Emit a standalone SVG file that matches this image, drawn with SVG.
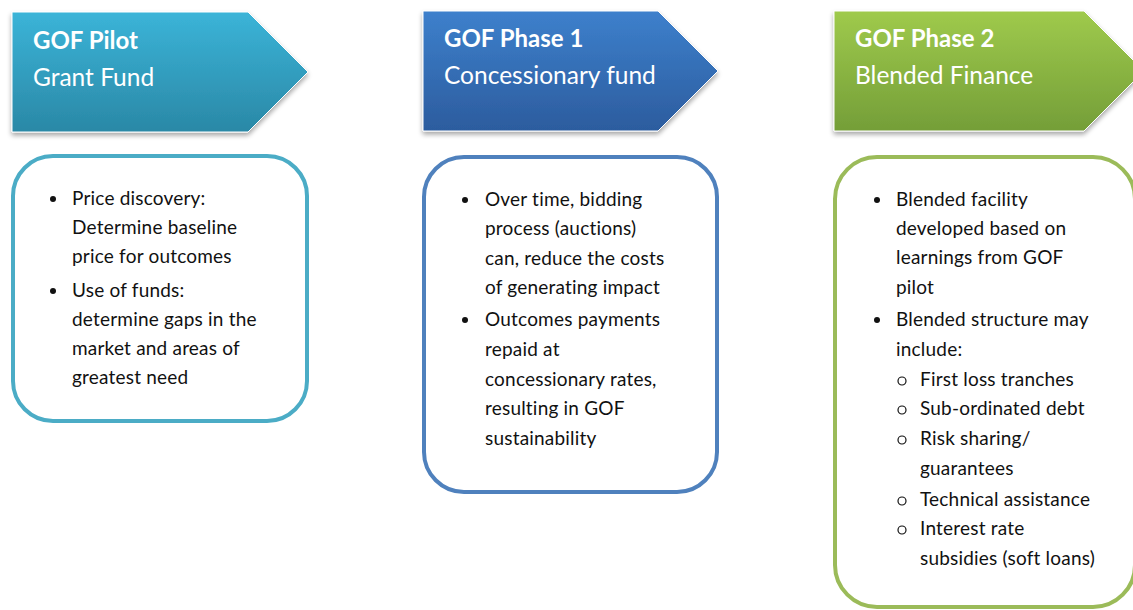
<svg xmlns="http://www.w3.org/2000/svg" width="1133" height="610" viewBox="0 0 1133 610">
<defs>
<linearGradient id="gPilot" x1="0" y1="0" x2="0" y2="1"><stop offset="0" stop-color="#3bb4d8"/><stop offset="1" stop-color="#2a88a6"/></linearGradient>
<linearGradient id="gP1" x1="0" y1="0" x2="0" y2="1"><stop offset="0" stop-color="#3d80cc"/><stop offset="1" stop-color="#2c5c9e"/></linearGradient>
<linearGradient id="gP2" x1="0" y1="0" x2="0" y2="1"><stop offset="0" stop-color="#9fca4c"/><stop offset="1" stop-color="#749e38"/></linearGradient>
<filter id="sh" x="-10%" y="-10%" width="120%" height="130%"><feGaussianBlur in="SourceAlpha" stdDeviation="2.5"/><feOffset dx="0" dy="3"/><feComponentTransfer><feFuncA type="linear" slope="0.35"/></feComponentTransfer><feMerge><feMergeNode/><feMergeNode in="SourceGraphic"/></feMerge></filter>
</defs>
<style>
.h1{font-family:Lato,"Liberation Sans",sans-serif;font-weight:bold;font-size:24px;fill:#fff}
.h2{font-family:Lato,"Liberation Sans",sans-serif;font-size:24.5px;fill:#fff}
.t{font-family:Lato,"Liberation Sans",sans-serif;font-size:19px;letter-spacing:0.2px;fill:#111}
.box{fill:#fff;stroke-width:4}
.dot{fill:#111}
.circ{fill:none;stroke:#111;stroke-width:1.2}
</style>
<g id="header-pilot">
<path d="M12 12 H248 L308 72 L248 132 H12 Z" fill="url(#gPilot)" stroke="#fff" stroke-width="1" filter="url(#sh)"/>
<text class="h1" x="33" y="49">GOF Pilot</text>
<text class="h2" x="33" y="86">Grant Fund</text>
</g>
<g id="header-phase1">
<path d="M423 11 H658 L718 71 L658 131 H423 Z" fill="url(#gP1)" stroke="#fff" stroke-width="1" filter="url(#sh)"/>
<text class="h1" x="444" y="47">GOF Phase 1</text>
<text class="h2" x="444" y="84">Concessionary fund</text>
</g>
<g id="header-phase2">
<path d="M834 11 H1084 L1144 71 L1084 131 H834 Z" fill="url(#gP2)" stroke="#fff" stroke-width="1" filter="url(#sh)"/>
<text class="h1" x="855" y="47">GOF Phase 2</text>
<text class="h2" x="855" y="84">Blended Finance</text>
</g>
<g id="box-pilot">
<rect class="box" x="13" y="156" width="294" height="265" rx="40" stroke="#4bacc6"/>
<circle class="dot" cx="53" cy="199" r="3"/>
<text class="t" x="72" y="205">Price discovery:</text>
<text class="t" x="72" y="234">Determine baseline</text>
<text class="t" x="72" y="263">price for outcomes</text>
<circle class="dot" cx="53" cy="291" r="3"/>
<text class="t" x="72" y="297">Use of funds:</text>
<text class="t" x="72" y="326">determine gaps in the</text>
<text class="t" x="72" y="355">market and areas of</text>
<text class="t" x="72" y="384">greatest need</text>
</g>
<g id="box-phase1">
<rect class="box" x="424" y="157" width="293" height="335" rx="40" stroke="#4f81bd"/>
<circle class="dot" cx="465" cy="200" r="3"/>
<text class="t" x="485" y="206">Over time, bidding</text>
<text class="t" x="485" y="235">process (auctions)</text>
<text class="t" x="485" y="265">can, reduce the costs</text>
<text class="t" x="485" y="294">of generating impact</text>
<circle class="dot" cx="465" cy="320" r="3"/>
<text class="t" x="485" y="326">Outcomes payments</text>
<text class="t" x="485" y="356">repaid at</text>
<text class="t" x="485" y="386">concessionary rates,</text>
<text class="t" x="485" y="415">resulting in GOF</text>
<text class="t" x="485" y="445">sustainability</text>
</g>
<g id="box-phase2">
<rect class="box" x="835" y="157" width="300" height="450" rx="42" stroke="#9bbb59"/>
<circle class="dot" cx="877" cy="200" r="3"/>
<text class="t" x="896" y="206">Blended facility</text>
<text class="t" x="896" y="235">developed based on</text>
<text class="t" x="896" y="264">learnings from GOF</text>
<text class="t" x="896" y="294">pilot</text>
<circle class="dot" cx="877" cy="320" r="3"/>
<text class="t" x="896" y="326">Blended structure may</text>
<text class="t" x="896" y="356">include:</text>
<circle class="circ" cx="902" cy="381" r="4"/>
<text class="t" x="920" y="386">First loss tranches</text>
<circle class="circ" cx="902" cy="410" r="4"/>
<text class="t" x="920" y="415">Sub-ordinated debt</text>
<circle class="circ" cx="902" cy="440" r="4"/>
<text class="t" x="920" y="445">Risk sharing/</text>
<text class="t" x="920" y="475">guarantees</text>
<circle class="circ" cx="902" cy="501" r="4"/>
<text class="t" x="920" y="506">Technical assistance</text>
<circle class="circ" cx="902" cy="530" r="4"/>
<text class="t" x="920" y="535">Interest rate</text>
<text class="t" x="920" y="565">subsidies (soft loans)</text>
</g>
</svg>
